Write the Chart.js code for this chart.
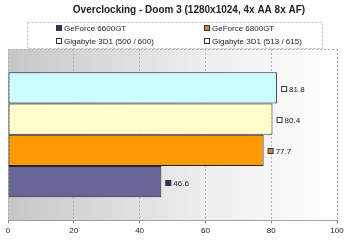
<!DOCTYPE html>
<html><head><meta charset="utf-8">
<script src="https://cdn.jsdelivr.net/npm/chart.js@4"></script>
<style>html,body{margin:0;padding:0;background:#fff}#wrap{width:350px;height:240px}</style>
</head><body><div id="wrap"><canvas id="c" width="350" height="240"></canvas></div>
<script>
const chartTitle = "Overclocking - Doom 3 (1280x1024, 4x AA 8x AF)";
const categories = [""];
const seriesNames = ["GeForce 6600GT", "GeForce 6800GT", "Gigabyte 3D1 (500 / 600)", "Gigabyte 3D1 (513 / 615)"];
const seriesValues = [46.6, 77.7, 80.4, 81.8];
const barColors = ["#666699", "#ff9900", "#ffffcc", "#ccffff"];
const markerColors = ["#333366", "#cc8833", "#ffffff", "#ffffff"];
const xTicks = [0, 20, 40, 60, 80, 100];

const order = [3, 2, 1, 0];
const datasets = order.map(i => ({
  label: seriesNames[i],
  data: [seriesValues[i]],
  backgroundColor: barColors[i],
  borderColor: "#222233",
  borderWidth: 1,
  borderSkipped: false,
  markerColor: markerColors[i],
  categoryPercentage: 0.73,
  barPercentage: 1.0
}));

const FONT = "'Liberation Sans', Arial, sans-serif";

const decor = {
  id: "decor",
  beforeDraw(chart) {
    const { ctx, chartArea: a } = chart;
    ctx.save();
    const g = ctx.createLinearGradient(a.left, 0, a.right, 0);
    g.addColorStop(0, "#c6c6c6");
    g.addColorStop(0.6, "#eeeeee");
    g.addColorStop(1, "#ffffff");
    ctx.fillStyle = g;
    ctx.fillRect(a.left, a.top, a.right - a.left, a.bottom - a.top);
    ctx.strokeStyle = "#b0b0b0";
    ctx.setLineDash([2, 2]);
    ctx.lineWidth = 1;
    ctx.beginPath();
    ctx.moveTo(a.left, a.top + 0.5); ctx.lineTo(a.right, a.top + 0.5);
    ctx.stroke();
    ctx.restore();
  },
  afterDraw(chart) {
    const { ctx, chartArea: a } = chart;
    ctx.save();
    ctx.fillStyle = "#222222";
    ctx.font = "bold 10px " + FONT;
    ctx.textAlign = "center";
    ctx.textBaseline = "middle";
    ctx.fillText(chartTitle, 189, 10);
    ctx.strokeStyle = "#b8b8b8";
    ctx.setLineDash([2, 2]);
    ctx.lineWidth = 1;
    ctx.strokeRect(27.5, 22.5, 295, 26);
    ctx.setLineDash([]);
    ctx.font = "8px " + FONT;
    ctx.textAlign = "left";
    const pos = [[59, 28], [207, 28], [59, 41], [207, 41]];
    seriesNames.forEach((n, i) => {
      const [x, y] = pos[i];
      ctx.fillStyle = markerColors[i];
      ctx.fillRect(x - 2.5, y - 2.5, 5, 5);
      ctx.strokeStyle = "#333333";
      ctx.strokeRect(x - 2.5, y - 2.5, 5, 5);
      ctx.fillStyle = "#222222";
      ctx.fillText(n, x + 5, y + 0.5);
    });
    chart.data.datasets.forEach((ds, di) => {
      const meta = chart.getDatasetMeta(di);
      meta.data.forEach((bar, j) => {
        const x = bar.x + 4, y = Math.round(bar.y) + 1;
        ctx.fillStyle = ds.markerColor;
        ctx.fillRect(x + 0.5, y - 2.5, 5, 5);
        ctx.strokeStyle = "#333333";
        ctx.strokeRect(x + 0.5, y - 2.5, 5, 5);
        ctx.fillStyle = "#222222";
        ctx.fillText(ds.data[j].toFixed(1), x + 8, y + 0.5);
      });
    });
    ctx.restore();
  }
};

new Chart(document.getElementById("c"), {
  type: "bar",
  data: { labels: categories, datasets },
  options: {
    indexAxis: "y",
    responsive: false,
    animation: false,
    layout: { padding: { top: 49, left: 8, right: 13, bottom: 1 } },
    plugins: { legend: { display: false }, title: { display: false }, tooltip: { enabled: false } },
    scales: {
      y: { display: false },
      x: {
        min: 0, max: 100,
        afterBuildTicks: s => { s.ticks = xTicks.map(v => ({ value: v })); },
        grid: { color: "#b0b0b0", tickColor: "#888888", tickLength: 3, tickBorderDash: [], lineWidth: 1 },
        border: { display: true, color: "#a0a0a0", dash: [2, 2] },
        ticks: { color: "#222222", font: { size: 8, family: FONT }, padding: 3, maxRotation: 0 }
      }
    }
  },
  plugins: [decor]
});
</script>
</body></html>
